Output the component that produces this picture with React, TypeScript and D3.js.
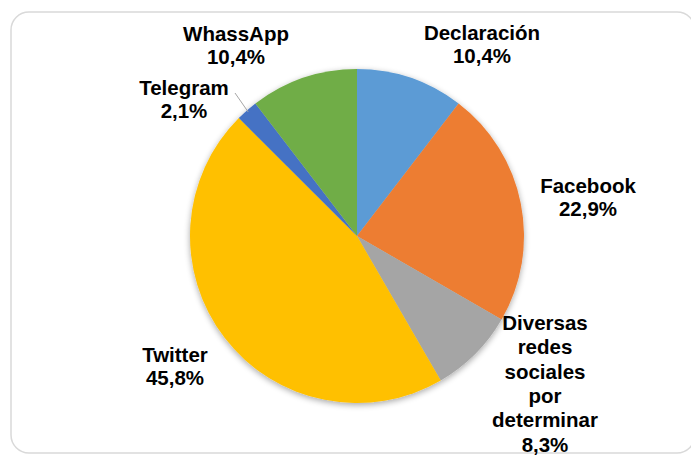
import React from "react";
import * as d3 from "d3";

const categories = ["Declaración", "Facebook", "Diversas redes sociales por determinar", "Twitter", "Telegram", "WhassApp"];
const values = [10.4, 22.9, 8.3, 45.8, 2.1, 10.4];
const percentLabels = ["10,4%", "22,9%", "8,3%", "45,8%", "2,1%", "10,4%"];
const colors = ["#5B9BD5", "#ED7D31", "#A5A5A5", "#FFC000", "#4472C4", "#70AD47"];

// label layout (text line breaks and positions of the label blocks)
const labelLines = [
  ["Declaración"],
  ["Facebook"],
  ["Diversas", "redes", "sociales", "por", "determinar"],
  ["Twitter"],
  ["Telegram"],
  ["WhassApp"],
];
const labelPos = [
  { x: 482, y: 40, lh: 23 },
  { x: 588, y: 193, lh: 23 },
  { x: 545, y: 330, lh: 24.3 },
  { x: 175, y: 362, lh: 22.5 },
  { x: 184, y: 95, lh: 23 },
  { x: 236, y: 41, lh: 22.5 },
];

const W = 691;
const H = 455;
const cx = 357;
const cy = 236;
const R = 167;

export default function App() {
  const pie = d3.pie<number>().sort(null).value((d) => d)(values);
  const arc = d3.arc<d3.PieArcDatum<number>>().innerRadius(0).outerRadius(R);
  const tele = pie[4];
  const mid = (tele.startAngle + tele.endAngle) / 2;
  const p1 = [cx + Math.sin(mid) * (R - 2), cy - Math.cos(mid) * (R - 2)];
  return (
    <svg width={W} height={H} style={{ position: "absolute", left: 0, top: 0 }} fontFamily="'Liberation Sans', Arial, sans-serif">
      <defs>
        <filter id="sh" x="-20%" y="-20%" width="140%" height="140%">
          <feGaussianBlur in="SourceAlpha" stdDeviation="3" />
          <feOffset dx="0" dy="2" result="b" />
          <feComponentTransfer>
            <feFuncA type="linear" slope="0.35" />
          </feComponentTransfer>
          <feMerge>
            <feMergeNode />
            <feMergeNode in="SourceGraphic" />
          </feMerge>
        </filter>
      </defs>
      <rect x={0} y={0} width={W} height={H} fill="#fff" />
      <rect x={11} y={12} width={684} height={441} rx={18} fill="#fff" stroke="#D9D9D9" strokeWidth={1.5} />
      <g transform={`translate(${cx},${cy})`} filter="url(#sh)">
        {pie.map((d, i) => (
          <path key={i} d={arc(d) || ""} fill={colors[i]} />
        ))}
      </g>
      <line x1={235} y1={93} x2={p1[0]} y2={p1[1]} stroke="#A6A6A6" strokeWidth={1} />
      {categories.map((c, i) => {
        const lines = [...labelLines[i], percentLabels[i]];
        const p = labelPos[i];
        return (
          <text key={c} x={p.x} y={p.y} textAnchor="middle" fontSize={20.5} fontWeight="bold" fill="#000">
            {lines.map((l, j) => (
              <tspan key={j} x={p.x} y={p.y + j * p.lh}>
                {l}
              </tspan>
            ))}
          </text>
        );
      })}
    </svg>
  );
}
